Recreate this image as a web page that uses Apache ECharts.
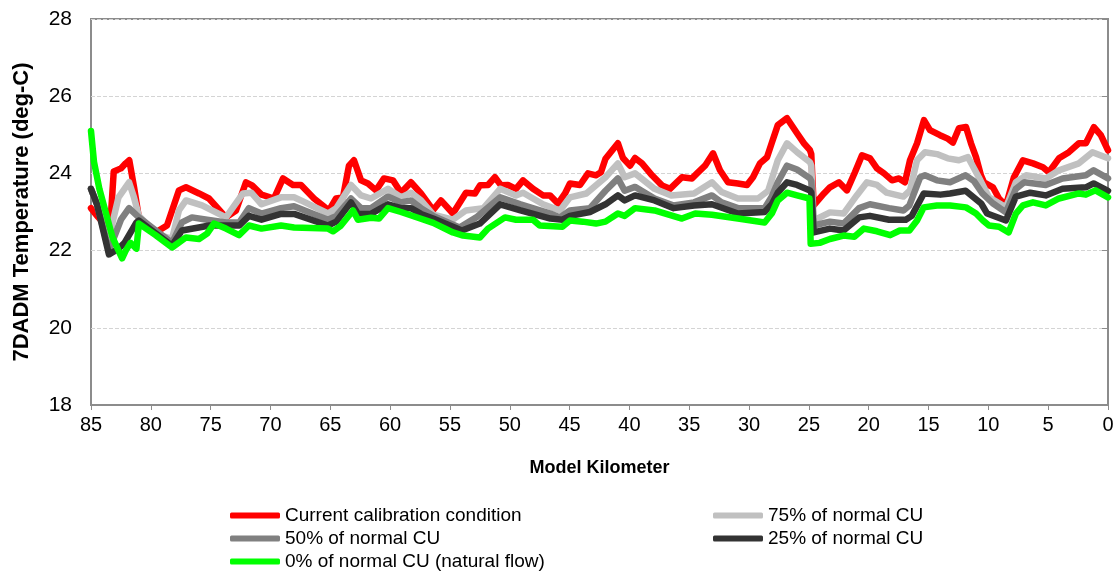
<!DOCTYPE html>
<html>
<head>
<meta charset="utf-8">
<script src="https://cdn.jsdelivr.net/npm/echarts@6/dist/echarts.min.js"></script>
<style>
html,body{margin:0;padding:0;background:#fff;}
#chart{width:1118px;height:573px;}
</style>
</head>
<body>
<div id="chart"></div>
<script>
const seriesNames = ['Current calibration condition', '75% of normal CU', '50% of normal CU', '25% of normal CU', '0% of normal CU (natural flow)'];
const yTicks = [18, 20, 22, 24, 26, 28];
const xTicks = [85, 80, 75, 70, 65, 60, 55, 50, 45, 40, 35, 30, 25, 20, 15, 10, 5, 0];

const current = [[85,23.1],[84.5,22.9],[83.9,22.7],[83.4,22.6],[83.1,24.05],[82.5,24.13],[82.1,24.26],[81.8,24.34],[81.4,23.64],[81.0,22.86],[79.6,22.47],[78.65,22.65],[77.65,23.56],[77.06,23.64],[75.97,23.48],[75.14,23.35],[73.72,22.86],[72.88,23.04],[72.05,23.77],[71.54,23.69],[70.75,23.45],[69.71,23.35],[68.95,23.87],[68.12,23.7],[67.45,23.7],[66.36,23.35],[65.11,23.04],[64.52,23.35],[63.94,23.38],[63.44,24.2],[63.02,24.34],[62.43,23.82],[61.85,23.74],[61.18,23.56],[60.51,23.87],[59.76,23.82],[59.09,23.5],[58.26,23.77],[57.42,23.48],[56.4,23.05],[55.75,23.3],[54.75,22.96],[53.66,23.5],[52.91,23.48],[52.49,23.69],[51.82,23.7],[51.24,23.9],[50.73,23.69],[50.15,23.7],[49.48,23.6],[48.89,23.82],[48.06,23.6],[47.22,23.43],[46.64,23.43],[45.97,23.22],[45.38,23.48],[44.97,23.74],[44.13,23.7],[43.46,24.0],[42.79,23.95],[42.38,24.03],[42.0,24.38],[40.96,24.78],[40.54,24.4],[39.95,24.2],[39.53,24.4],[38.95,24.26],[38.11,23.95],[37.28,23.69],[36.61,23.6],[35.61,23.9],[34.77,23.87],[34.35,24.0],[33.68,24.2],[33.01,24.52],[32.43,24.08],[31.76,23.77],[30.93,23.74],[30.17,23.7],[29.67,23.9],[29.09,24.26],[28.5,24.42],[28.09,24.8],[27.6,25.25],[26.83,25.43],[25.99,25.04],[25.41,24.78],[24.91,24.6],[24.8,24.5],[24.6,23.17],[23.74,23.48],[23.24,23.64],[22.49,23.77],[21.82,23.56],[21.15,24.03],[20.56,24.47],[19.89,24.39],[19.31,24.13],[18.72,24.0],[18.05,23.82],[17.47,23.87],[16.97,23.77],[16.55,24.34],[15.96,24.78],[15.38,25.38],[14.88,25.12],[14.04,24.99],[13.4,24.9],[12.96,24.8],[12.46,25.17],[11.87,25.2],[11.45,24.78],[11.03,24.42],[10.62,23.95],[10.37,23.77],[9.62,23.64],[9.11,23.35],[8.53,23.17],[7.86,23.9],[7.11,24.34],[6.27,24.26],[5.44,24.16],[4.94,24.03],[4.1,24.39],[3.27,24.55],[2.43,24.78],[1.85,24.78],[1.18,25.2],[0.6,24.99],[0,24.6]];

const cu75 = [[85,23.6],[84.5,23.2],[83.6,22.2],[82.7,23.38],[81.82,23.77],[81.41,23.38],[81.0,22.9],[79.57,22.44],[78.23,22.3],[77.65,23.04],[77.06,23.3],[75.72,23.17],[73.72,22.86],[72.3,23.48],[71.6,23.5],[70.75,23.2],[69.12,23.38],[68.03,23.38],[67.45,23.3],[65.19,22.96],[64.5,23.1],[63.27,23.7],[62.43,23.43],[61.6,23.35],[60.18,23.6],[59.09,23.38],[58.26,23.5],[57.42,23.3],[56.4,22.93],[54.75,22.8],[53.66,23.04],[52.2,23.1],[50.8,23.6],[49.48,23.43],[48.89,23.5],[47.22,23.2],[45.8,23.04],[44.97,23.38],[43.6,23.48],[42.0,23.9],[40.96,24.26],[40.4,23.9],[39.53,24.0],[37.9,23.6],[36.5,23.43],[34.6,23.48],[33.1,23.77],[32.3,23.52],[30.93,23.35],[29.25,23.35],[28.4,23.55],[27.6,24.34],[26.83,24.78],[25.99,24.55],[24.91,24.29],[24.8,24.2],[24.6,22.78],[23.24,22.99],[22.1,22.96],[21.0,23.43],[20.15,23.77],[19.3,23.7],[18.5,23.5],[17.1,23.4],[16.55,23.56],[15.96,24.34],[15.3,24.55],[14.3,24.5],[13.4,24.39],[12.46,24.34],[11.7,24.42],[10.8,23.9],[9.95,23.38],[8.53,23.12],[7.7,23.77],[6.85,23.95],[5.2,23.87],[4.1,24.08],[2.43,24.26],[1.3,24.55],[0,24.39]];

const cu50 = [[85,23.6],[84.5,23.2],[83.5,22.0],[82.5,22.8],[81.82,23.1],[81.0,22.86],[79.57,22.52],[78.23,22.2],[77.4,22.73],[76.56,22.86],[75.3,22.8],[73.72,22.73],[72.6,22.73],[71.8,23.1],[70.75,22.96],[69.12,23.1],[68.03,23.15],[65.19,22.8],[64.5,22.9],[63.27,23.35],[62.43,23.1],[61.6,23.1],[60.18,23.4],[59.09,23.25],[58.26,23.3],[57.42,23.1],[56.4,22.9],[54.2,22.6],[52.8,22.86],[50.8,23.38],[49.1,23.2],[46.6,22.96],[45.8,22.86],[44.97,23.04],[43.3,23.1],[42.0,23.55],[40.96,23.87],[40.4,23.55],[39.53,23.65],[37.9,23.35],[36.3,23.17],[34.6,23.25],[33.1,23.43],[32.3,23.25],[30.93,23.1],[28.7,23.1],[28.1,23.4],[27.6,23.77],[26.83,24.2],[25.99,24.1],[24.91,23.87],[24.8,23.8],[24.6,22.65],[23.24,22.75],[22.1,22.7],[20.8,23.1],[19.9,23.2],[18.3,23.1],[17.1,23.04],[16.6,23.17],[15.7,23.9],[15.3,23.95],[14.3,23.82],[13.2,23.77],[11.9,23.95],[11.2,23.8],[10.5,23.48],[9.6,23.22],[8.53,22.99],[7.7,23.6],[7.0,23.77],[5.2,23.7],[3.8,23.87],[1.85,23.95],[1.2,24.08],[0,23.87]];

const cu25 = [[85,23.6],[84.5,23.2],[83.5,21.9],[82.7,22.05],[82.2,22.2],[81.2,22.73],[81.0,22.78],[79.6,22.45],[78.23,22.13],[77.4,22.52],[76.0,22.6],[75.1,22.65],[73.7,22.65],[72.6,22.65],[71.8,22.9],[70.75,22.8],[69.12,22.95],[68.03,22.95],[65.19,22.65],[64.5,22.75],[63.27,23.25],[62.69,22.95],[61.6,22.95],[60.18,23.2],[59.09,23.1],[58.26,23.1],[57.42,22.95],[56.4,22.83],[54.0,22.52],[52.5,22.7],[50.8,23.2],[49.1,23.04],[46.6,22.83],[45.6,22.8],[44.97,22.9],[43.3,23.0],[42.0,23.2],[40.96,23.43],[40.4,23.3],[39.53,23.43],[37.9,23.3],[36.3,23.1],[34.6,23.17],[33.1,23.2],[30.93,22.96],[28.7,23.0],[28.1,23.2],[27.6,23.5],[26.83,23.77],[25.99,23.7],[24.91,23.56],[24.8,23.5],[24.6,22.47],[23.24,22.57],[22.1,22.52],[20.8,22.86],[19.9,22.9],[18.3,22.8],[16.9,22.8],[16.4,22.9],[15.4,23.48],[14.0,23.45],[13.2,23.48],[11.9,23.55],[10.6,23.22],[10.1,22.96],[8.53,22.78],[7.7,23.4],[6.5,23.5],[5.2,23.43],[3.8,23.6],[1.85,23.64],[1.2,23.74],[0,23.55]];

const natural = [[85,25.1],[84.75,24.3],[84.3,23.6],[83.2,22.34],[82.4,21.8],[82.1,22.0],[81.7,22.2],[81.2,22.05],[81.0,22.7],[79.6,22.4],[78.23,22.08],[77.06,22.34],[75.97,22.3],[75.3,22.44],[74.72,22.7],[73.72,22.57],[72.63,22.4],[71.8,22.65],[70.75,22.57],[69.12,22.65],[68.03,22.6],[65.19,22.57],[64.77,22.5],[64.11,22.65],[63.1,23.04],[62.69,22.8],[61.6,22.85],[60.93,22.83],[60.18,23.1],[59.09,23.0],[57.67,22.85],[56.4,22.72],[54.75,22.47],[53.9,22.39],[52.5,22.34],[51.82,22.57],[50.4,22.86],[49.48,22.8],[48.06,22.8],[47.5,22.65],[45.6,22.62],[44.97,22.78],[43.9,22.75],[42.79,22.7],[42.0,22.75],[40.96,22.96],[40.4,22.9],[39.53,23.1],[37.9,23.04],[35.61,22.83],[34.5,22.96],[33.1,22.93],[30.93,22.83],[28.7,22.73],[28.1,22.96],[27.6,23.3],[26.83,23.5],[25.99,23.43],[24.95,23.35],[24.85,22.18],[24.1,22.2],[23.24,22.3],[22.1,22.39],[21.2,22.36],[20.4,22.57],[19.31,22.5],[18.2,22.4],[17.4,22.52],[16.6,22.52],[15.96,22.78],[15.4,23.12],[14.3,23.17],[13.2,23.17],[11.87,23.12],[11.03,22.96],[10.45,22.78],[9.95,22.65],[9.11,22.62],[8.3,22.47],[7.7,22.96],[7.11,23.17],[6.27,23.25],[5.2,23.17],[4.1,23.35],[2.43,23.48],[1.85,23.45],[1.05,23.56],[0,23.38]];

const seriesData = [current, cu75, cu50, cu25, natural];
const colors = ['#ff0000', '#c0c0c0', '#808080', '#333333', '#00ff00'];

const chart = echarts.init(document.getElementById('chart'), null, {renderer: 'canvas'});
const FONT = 'Liberation Sans, Arial, sans-serif';

const series = seriesData.map((d, i) => ({
  name: seriesNames[i],
  type: 'line',
  data: d,
  symbol: 'none',
  smooth: false,
  animation: false,
  color: colors[i],
  lineStyle: {width: 6.5, color: colors[i], cap: 'round', join: 'round'},
  z: 2 + i
}));

const legendText = {fontFamily: FONT, fontSize: 19, color: '#000'};

chart.setOption({
  animation: false,
  backgroundColor: '#ffffff',
  textStyle: {fontFamily: FONT},
  grid: {left: 91, right: 10, top: 19, bottom: 168, show: true, borderColor: '#8c8c8c', borderWidth: 2, containLabel: false},
  legend: [
    {
      data: [seriesNames[0], seriesNames[2], seriesNames[4]],
      orient: 'vertical', left: 225, top: 501, width: 400, height: 90, itemWidth: 50, itemHeight: 6, itemGap: 4,
      icon: 'roundRect',
      textStyle: legendText
    },
    {
      data: [seriesNames[1], seriesNames[3]],
      orient: 'vertical', left: 708, top: 501, width: 300, height: 90, itemWidth: 50, itemHeight: 6, itemGap: 4,
      icon: 'roundRect',
      textStyle: legendText
    }
  ],
  xAxis: {
    type: 'value', min: 0, max: 85, interval: 5, inverse: true,
    name: 'Model Kilometer', nameLocation: 'middle', nameGap: 54,
    nameTextStyle: {fontFamily: FONT, fontSize: 18, fontWeight: 'bold', color: '#000'},
    axisLine: {show: true, lineStyle: {color: '#8c8c8c', width: 2}},
    axisTick: {show: true, length: 5, lineStyle: {color: '#8c8c8c'}},
    axisLabel: {fontFamily: FONT, fontSize: 20, color: '#000', margin: 10,
      formatter: v => xTicks.indexOf(v) >= 0 ? String(v) : ''},
    splitLine: {show: false}
  },
  yAxis: {
    type: 'value', min: 18, max: 28, interval: 2,
    name: '7DADM Temperature (deg-C)', nameLocation: 'middle', nameGap: 58,
    nameTextStyle: {fontFamily: FONT, fontSize: 22, fontWeight: 'bold', color: '#000'},
    axisLine: {show: true, lineStyle: {color: '#8c8c8c', width: 2}},
    axisTick: {show: true, length: 6, lineStyle: {color: '#8c8c8c'}},
    axisLabel: {fontFamily: FONT, fontSize: 21, color: '#000', margin: 19,
      formatter: v => yTicks.indexOf(v) >= 0 ? String(v) : ''},
    splitLine: {show: true, lineStyle: {color: '#d4d4d4', type: 'dashed', width: 1}}
  },
  series: series
});
</script>
</body>
</html>
